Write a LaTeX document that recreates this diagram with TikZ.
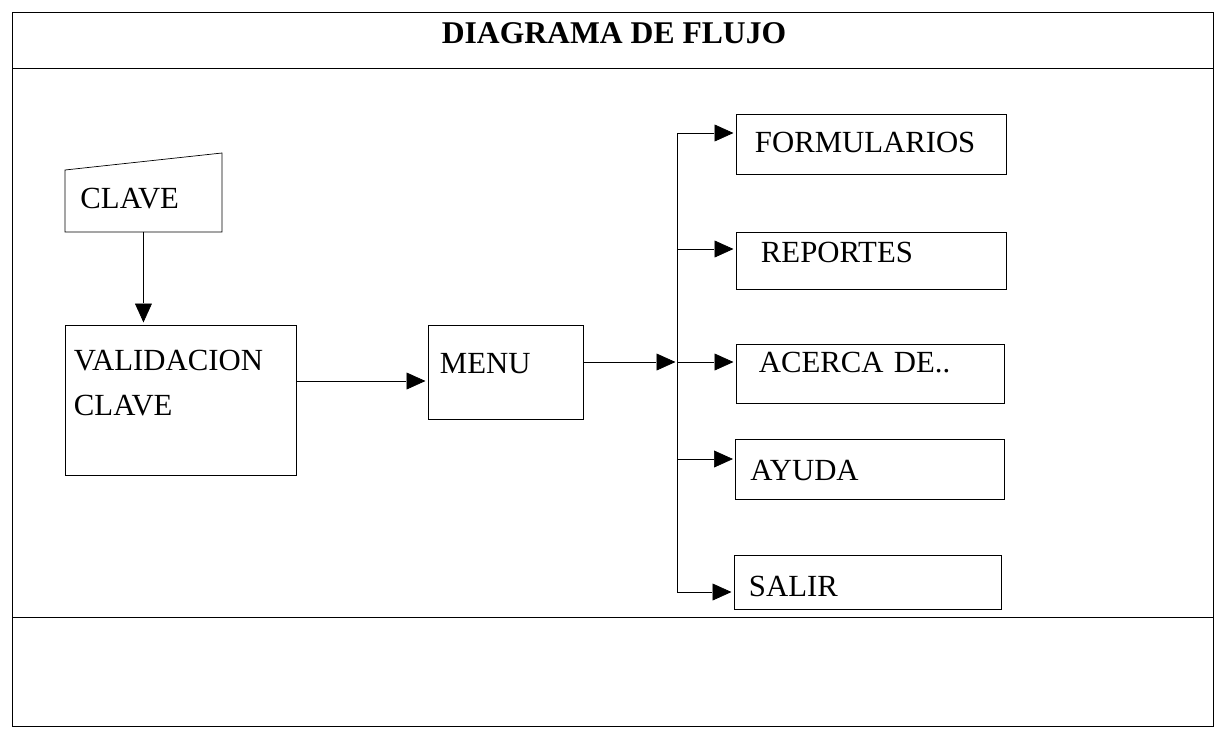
\documentclass[tikz,border=0pt]{standalone}
\usepackage{fontspec}
\setmainfont{Liberation Serif}
\usetikzlibrary{arrows.meta}

\begin{document}
\begin{tikzpicture}[x=0.02cm, y=-0.02cm]
\tikzset{ >={Triangle[length=12pt,width=10.5pt]}, line width=1.1pt,
  caja/.style={draw, inner ysep=0pt, align=left, anchor=north west,
    font=\fontsize{17.5}{25.6}\selectfont},
}
\useasboundingbox (0,0) rectangle (1222,735);

% marco
\draw (12,12) rectangle (1213,726);
\draw (12,68) -- (1213,68);
\draw (12,617) -- (1213,617);

\node [anchor=base, font=\bfseries\fontsize{18}{22}\selectfont] (titulo) at (614,43) {DIAGRAMA DE FLUJO};

\node [caja, draw=none, inner xsep=0.29cm, text width=2.52cm, text height=1.09cm, text depth=0.45cm] (clave) at (65,153) {CLAVE};
\draw (clave.south west) -- ([yshift=-0.34cm]clave.north west) -- (clave.north east) -- (clave.south east) -- cycle;

\node [caja, inner xsep=0.18cm, text width=4.26cm, text height=0.91cm, text depth=2.09cm] (valid) at (64,324) {VALIDACION\\CLAVE};
\node [caja, inner xsep=0.24cm, text width=2.62cm, text height=0.96cm, text depth=0.92cm] (menu) at (427,324.5) {MENU};

\node [caja, inner xsep=0.38cm, text width=4.64cm, text height=0.77cm, text depth=0.43cm] (form) at (735,113) {FORMULARIOS};
\node [caja, inner xsep=0.50cm, text width=4.40cm, text height=0.60cm, text depth=0.54cm] (rep) at (735,231.5) {REPORTES};
\node [caja, inner xsep=0.46cm, text width=4.44cm, text height=0.57cm, text depth=0.61cm] (acerca) at (735,343) {ACERCA DE..};
\node [caja, inner xsep=0.30cm, text width=4.78cm, text height=0.83cm, text depth=0.37cm] (ayuda) at (734.5,438.5) {AYUDA};
\node [caja, inner xsep=0.30cm, text width=4.74cm, text height=0.82cm, text depth=0.26cm] (salir) at (733,554.5) {SALIR};

\coordinate (bussup) at (677,133);
\coordinate (businf) at (677,592);

\draw [->] (clave.south) -- (valid.north -| clave.south);
\draw [->] (valid.east |- 0,381) -- (menu.west |- 0,381);
\draw [->] (menu.east |- 0,362) -- (bussup |- 0,362);

\draw [<->] (form.west |- bussup) -- (bussup) -- (businf) -- (salir.west |- businf);
\draw [->] (bussup |- 0,249) -- (rep.west |- 0,249);
\draw [->] (bussup |- 0,362) -- (acerca.west |- 0,362);
\draw [->] (bussup |- 0,459) -- (ayuda.west |- 0,459);

\end{tikzpicture}
\end{document}
